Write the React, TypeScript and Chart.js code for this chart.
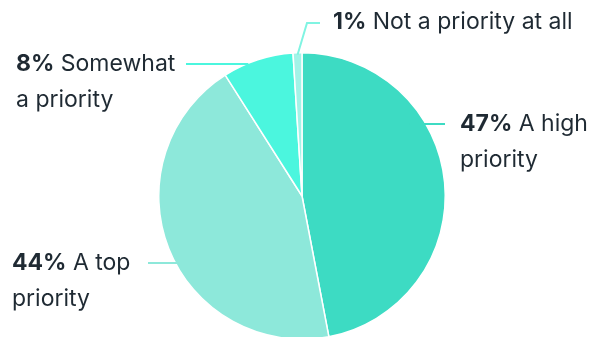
import React, { useEffect, useRef } from "react";
import { Chart, registerables } from "chart.js";

Chart.register(...registerables);

const categories = ["A high priority", "A top priority", "Somewhat a priority", "Not a priority at all"];
const values = [47, 44, 8, 1];
const colors = ["#3ddbc3", "#8de8da", "#4bf6de", "#a2f3e7"];
const lineColors = ["#3ddbc3", "#8de8da", "#4bf6de", "#80f4e2"];
// label text split into lines (after the bold percentage)
const firstLines = ["A high", "A top", "Somewhat", "Not a priority at all"];
const secondLines = ["priority", "priority", "a priority", ""];

// label layout (text anchor x, first line center y, side, leader line outer x)
const labelX = [460, 12, 16, 333];
const labelY = [124, 263, 64, 22];
const labelSide = ["right", "left", "left", "top"];
const lineOuterX = [445, 148, 186, 320];

const FONT = "Inter, 'Noto Sans', sans-serif";
const SIZE = 23;
const TEXT = "#1f2a33";

const labelPlugin = {
  id: "pieLabels",
  afterDraw(chart: any) {
    const ctx = chart.ctx;
    const meta = chart.getDatasetMeta(0);
    ctx.save();
    meta.data.forEach((arc: any, i: number) => {
      const cx = arc.x;
      const cy = arc.y;
      const r = arc.outerRadius;
      const tx = labelX[i];
      const ty = labelY[i];
      ctx.strokeStyle = lineColors[i];
      ctx.lineWidth = 2;
      ctx.beginPath();
      if (labelSide[i] === "right") {
        const dy = ty - cy;
        const ex = cx + Math.sqrt(Math.max(r * r - dy * dy, 0));
        ctx.moveTo(ex - 16, ty);
        ctx.lineTo(lineOuterX[i], ty);
      } else if (labelSide[i] === "left") {
        const dy = ty - cy;
        const ex = cx - Math.sqrt(Math.max(r * r - dy * dy, 0));
        ctx.moveTo(lineOuterX[i], ty);
        ctx.lineTo(ex + 2, ty);
      } else {
        const mid = (arc.startAngle + arc.endAngle) / 2;
        const sx = cx + Math.cos(mid) * (r - 2);
        const sy = cy + Math.sin(mid) * (r - 2);
        ctx.moveTo(sx, sy);
        ctx.lineTo(lineOuterX[i] - 13, ty + 1);
        ctx.lineTo(lineOuterX[i], ty + 1);
      }
      ctx.stroke();

      ctx.fillStyle = TEXT;
      ctx.textBaseline = "middle";
      ctx.textAlign = "left";
      const pct = `${values[i]}%`;
      ctx.font = `700 ${SIZE}px ${FONT}`;
      const pw = ctx.measureText(pct).width;
      ctx.fillText(pct, tx, ty);
      ctx.font = `400 ${SIZE}px ${FONT}`;
      ctx.fillText(" " + firstLines[i], tx + pw, ty);
      if (secondLines[i]) ctx.fillText(secondLines[i], tx, ty + 36);
    });
    ctx.restore();
  },
};

export default function App() {
  const ref = useRef<HTMLCanvasElement>(null);
  useEffect(() => {
    document.body.style.margin = "0";
    const chart = new Chart(ref.current!, {
      type: "pie",
      data: {
        labels: categories,
        datasets: [
          {
            data: values,
            backgroundColor: colors,
            borderColor: "#ffffff",
            borderWidth: 1.5,
          },
        ],
      },
      options: {
        animation: false,
        responsive: false,
        layout: { padding: { top: 52, left: 9, right: 0, bottom: 0 } },
        plugins: { legend: { display: false }, tooltip: { enabled: false } },
      },
      plugins: [labelPlugin],
    });
    return () => chart.destroy();
  }, []);
  return (
    <div style={{ position: "absolute", left: 0, top: 0, width: 595, height: 337, overflow: "hidden" }}>
      <canvas ref={ref} width={595} height={340} style={{ display: "block" }} />
    </div>
  );
}
